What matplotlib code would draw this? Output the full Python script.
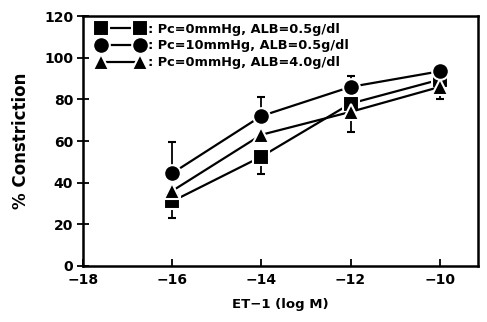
import matplotlib
matplotlib.use("Agg")
import matplotlib.pyplot as plt

plt.rcParams['font.family'] = ['DejaVu Sans']
plt.rcParams['font.weight'] = 'bold'

conc = [-16, -14, -12, -10]

sq_vals = [31, 52.5, 78, 89.5]
sq_err_low = [8, 8.5, 0, 0]
circ_vals = [44.5, 72, 86, 93.5]
circ_err_up = [15, 9, 5, 0]
tri_vals = [36, 63, 74, 86]
tri_err_low = [0, 0, 9.5, 6]

labels = [': Pc=0mmHg, ALB=0.5g/dl',
          ': Pc=10mmHg, ALB=0.5g/dl',
          ': Pc=0mmHg, ALB=4.0g/dl']

fig = plt.figure(figsize=(4.87, 3.22), dpi=100)
ax = fig.add_axes([0.170, 0.174, 0.811, 0.776])

style = dict(color='black', lw=1.6, mec='white', mew=1.5, ms=12,
             capsize=3, elinewidth=1.3, capthick=1.3, ecolor='black')

ax.errorbar(conc, sq_vals, yerr=[sq_err_low, [0] * 4], marker='s',
            label=labels[0], zorder=3, **style)
ax.errorbar(conc, circ_vals, yerr=[[0] * 4, circ_err_up], marker='o',
            label=labels[1], zorder=4, **style)
ax.errorbar(conc, tri_vals, yerr=[tri_err_low, [0] * 4], marker='^',
            label=labels[2], zorder=3, **style)

ax.set_xlim(-18, -9.15)
ax.set_ylim(0, 120)
ax.set_xticks([-18, -16, -14, -12, -10])
ax.set_yticks([0, 20, 40, 60, 80, 100, 120])
ax.set_xticklabels(['\u221218', '\u221216', '\u221214', '\u221212', '\u221210'])
ax.tick_params(axis='x', direction='in', length=5, width=1.3,
               labelsize=10, pad=5)
ax.tick_params(axis='y', direction='inout', length=8, width=1.3,
               labelsize=10, pad=3)
for s in ax.spines.values():
    s.set_linewidth(1.8)

ax.set_xlabel('ET\u22121 (log M)', fontsize=9.5, fontweight='bold', labelpad=8)
ax.set_ylabel('% Constriction', fontsize=12, fontweight='bold', labelpad=10)

handles, labs = ax.get_legend_handles_labels()
handles = [h[0] for h in handles]
ax.legend(handles, labs, loc='upper left', numpoints=2, handlelength=3.6,
          handletextpad=0.3, frameon=False, borderaxespad=0.1,
          labelspacing=0.3, bbox_to_anchor=(0.02, 1.0),
          prop={'weight': 'bold', 'size': 9.3})

fig.savefig('out.png', dpi=100)
